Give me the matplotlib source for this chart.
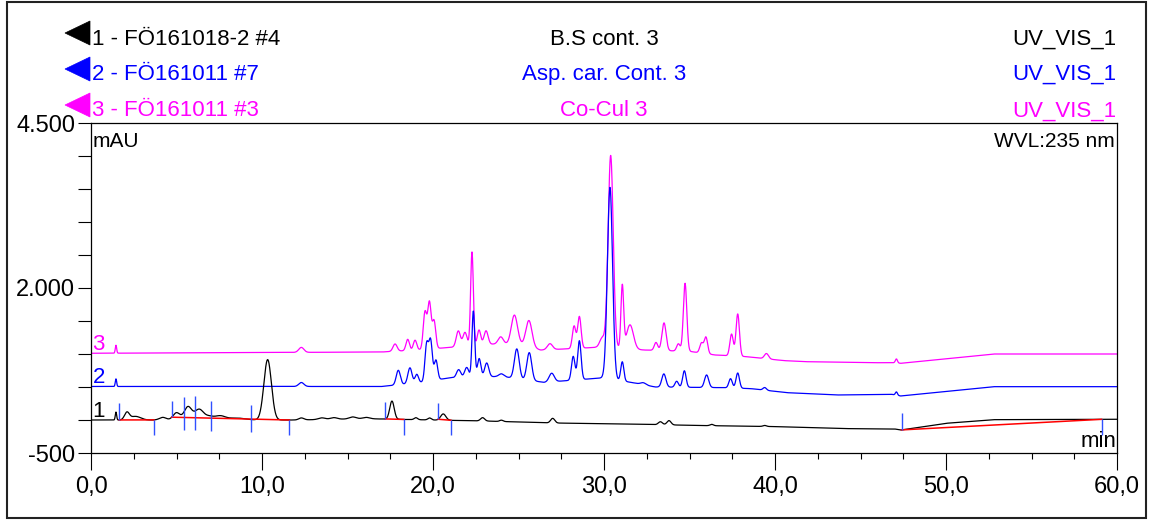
import numpy as np
import matplotlib.pyplot as plt
from matplotlib.patches import Polygon, Rectangle
from matplotlib.ticker import FixedLocator, MultipleLocator

plt.rcParams['font.family'] = ['Liberation Sans', 'DejaVu Sans']

# header rows (one per trace)
sample_names = ["1 - FÖ161018-2 #4", "2 - FÖ161011 #7", "3 - FÖ161011 #3"]
sample_titles = ["B.S cont. 3", "Asp. car. Cont. 3", "Co-Cul 3"]
channels = ["UV_VIS_1", "UV_VIS_1", "UV_VIS_1"]
trace_colors = ["#000000", "#0000ff", "#ff00ff"]
trace_labels = ["1", "2", "3"]

# axes
y_ticks = [-500, 2000, 4500]
y_ticklabels = ["-500", "2.000", "4.500"]
x_ticks = [0, 10, 20, 30, 40, 50, 60]
x_ticklabels = ["0,0", "10,0", "20,0", "30,0", "40,0", "50,0", "60,0"]

# trace 1 (black): baseline drift, then peaks (rt min, height mAU, sigma min)
base1_t = [0, 12, 16, 20, 23, 27, 32, 36, 40, 44, 47.0, 47.35, 50, 52.75, 60]
base1_v = [0, 0, 20, 0, -15, -45, -65, -85, -100, -130, -136, -152, -50, 5, 11]
peaks1_rt = [1.46, 2.1, 2.6, 4.2, 5.0, 5.67, 6.32, 6.9, 7.54, 8.5, 10.33, 12.3, 13.5, 14.2,
             15.3, 16.1, 17.6, 19.0, 19.8, 20.6, 22.9, 24.0, 27.0, 33.3, 33.8, 36.3, 39.4]
peaks1_h = [120, 110, 55, 40, 110, 200, 160, 50, 60, 30, 915, 30, 25, 25,
            30, 20, 275, 30, 30, 95, 50, 20, 70, 45, 65, 20, 15]
peaks1_w = [0.04, 0.14, 0.3, 0.2, 0.2, 0.22, 0.25, 0.25, 0.3, 0.5, 0.22, 0.15, 0.2, 0.2,
            0.2, 0.2, 0.13, 0.1, 0.1, 0.15, 0.12, 0.1, 0.12, 0.12, 0.12, 0.1, 0.1]

# trace 2 (blue)
base2_t = [0, 17, 19, 21, 24, 26.5, 28, 30, 31.8, 33, 37, 38.6, 40.7, 43.6, 46.8, 47.35, 52.75, 60]
base2_v = [508, 508, 560, 640, 660, 570, 600, 640, 560, 500, 490, 475, 414, 379, 390, 364, 505, 505]
peaks2_rt = [1.46, 12.3, 17.97, 18.65, 19.05, 19.63, 19.86, 20.17, 21.5, 21.97, 22.36, 22.7,
             23.14, 24.0, 24.9, 25.63, 26.94, 28.2, 28.56, 30.35, 31.07, 32.3, 33.5, 34.25,
             34.7, 36.0, 37.4, 37.82, 39.4, 47.1]
peaks2_h = [115, 60, 220, 240, 130, 560, 600, 300, 120, 150, 1000, 280,
            210, 40, 450, 420, 130, 360, 590, 2900, 290, 30, 200, 90,
            250, 190, 140, 230, 40, 50]
peaks2_w = [0.04, 0.15, 0.12, 0.12, 0.1, 0.1, 0.1, 0.1, 0.12, 0.12, 0.08, 0.1,
            0.12, 0.15, 0.14, 0.14, 0.15, 0.1, 0.1, 0.15, 0.09, 0.15, 0.12, 0.1,
            0.1, 0.12, 0.1, 0.1, 0.1, 0.06]

# trace 3 (magenta)
base3_t = [0, 17, 19, 21, 23.5, 25, 26.3, 28, 29.5, 32.4, 35, 36.5, 38.3, 40.5, 41.7, 45.6,
           47.0, 47.35, 52.75, 60]
base3_v = [1011, 1030, 1060, 1100, 1150, 1150, 1060, 1080, 1100, 1060, 1040, 985, 960, 900, 884, 868,
           868, 859, 1000, 1000]
peaks3_rt = [1.46, 12.3, 17.78, 18.52, 18.95, 19.53, 19.79, 20.06, 21.48, 21.87, 22.28, 22.69,
             23.1, 23.96, 24.76, 25.61, 26.84, 28.25, 28.56, 29.9, 30.39, 31.07, 31.52, 33.04,
             33.51, 34.35, 34.74, 35.7, 35.96, 37.46, 37.82, 39.5, 47.1]
peaks3_h = [120, 75, 110, 170, 150, 560, 700, 420, 240, 210, 1420, 230,
            210, 110, 440, 400, 90, 340, 480, 150, 2920, 950, 370, 120,
            420, 110, 1030, 150, 250, 330, 640, 80, 60]
peaks3_w = [0.04, 0.15, 0.12, 0.1, 0.1, 0.1, 0.1, 0.1, 0.12, 0.12, 0.08, 0.1,
            0.12, 0.15, 0.18, 0.18, 0.15, 0.1, 0.1, 0.15, 0.15, 0.08, 0.2, 0.1,
            0.12, 0.1, 0.1, 0.1, 0.1, 0.1, 0.1, 0.12, 0.06]

# integration of trace 1: baseline segments and peak delimiters (min)
seg_start = [1.65, 4.72, 17.2, 20.3, 47.4]
seg_end = [3.68, 11.6, 18.3, 21.05, 59.1]
dividers = [5.43, 6.08, 7.03, 9.36]

t = np.linspace(0, 60, 6001)


def build_trace(base_t, base_v, rt, h, w):
    y = np.interp(t, base_t, base_v)
    for r, a, s in zip(rt, h, w):
        y = y + a * np.exp(-0.5 * ((t - r) / s) ** 2)
    return y


y1 = build_trace(base1_t, base1_v, peaks1_rt, peaks1_h, peaks1_w)
y2 = build_trace(base2_t, base2_v, peaks2_rt, peaks2_h, peaks2_w)
y3 = build_trace(base3_t, base3_v, peaks3_rt, peaks3_h, peaks3_w)
traces = [y1, y2, y3]

W, H = 1153, 522
fig = plt.figure(figsize=(W / 100, H / 100), dpi=100)
ax = fig.add_axes([91 / W, 69 / H, 1026 / W, 330 / H])

for i in [2, 1, 0]:
    ax.plot(t, traces[i], color=trace_colors[i], lw=0.9, zorder=2)
    ax.annotate(trace_labels[i], xy=(0, traces[i][0]), xytext=(1, 2.5), textcoords='offset points',
                color=trace_colors[i], fontsize=16, ha='left', va='baseline')

# integration baselines and delimiters on trace 1
up_len, down_len = 250, 230
for s, e in zip(seg_start, seg_end):
    ys, ye = np.interp(s, t, y1), np.interp(e, t, y1)
    ax.plot([s, e], [ys, ye], color='#ff0000', lw=1.1, zorder=3)
    ax.vlines(s, ys, ys + up_len, color='#3050ff', lw=1.0, zorder=4)
    ax.vlines(e, ye - down_len, ye, color='#3050ff', lw=1.0, zorder=4)
for d in dividers:
    k = [j for j in range(len(seg_start)) if seg_start[j] < d < seg_end[j]][0]
    b = np.interp(d, [seg_start[k], seg_end[k]],
                  [np.interp(seg_start[k], t, y1), np.interp(seg_end[k], t, y1)])
    ax.vlines(d, b - 190, np.interp(d, t, y1) + 220, color='#3050ff', lw=1.0, zorder=4)

ax.set_xlim(0, 60)
ax.set_ylim(-500, 4500)
ax.xaxis.set_major_locator(FixedLocator(x_ticks))
ax.set_xticklabels(x_ticklabels)
ax.xaxis.set_minor_locator(MultipleLocator(2.5))
ax.yaxis.set_major_locator(FixedLocator(y_ticks))
ax.set_yticklabels(y_ticklabels)
ax.yaxis.set_minor_locator(MultipleLocator(500))
ax.tick_params(axis='x', which='major', length=12.5, width=0.8, labelsize=17, pad=4)
ax.tick_params(axis='x', which='minor', length=4.5, width=0.8)
ax.tick_params(axis='y', which='both', length=9.5, width=0.8, labelsize=17, pad=2)
for sp in ax.spines.values():
    sp.set_linewidth(0.9)

ax.annotate("mAU", xy=(0, 1), xycoords='axes fraction', xytext=(1, -17.5), textcoords='offset points',
            fontsize=15, ha='left', va='baseline')
ax.annotate("WVL:235 nm", xy=(1, 1), xycoords='axes fraction', xytext=(-1.5, -17.5),
            textcoords='offset points', fontsize=15, ha='right', va='baseline')
ax.annotate("min", xy=(1, 0), xycoords='axes fraction', xytext=(-0.5, 4.5), textcoords='offset points',
            fontsize=16, ha='right', va='baseline')

# header with sample rows
row_base = [45, 80, 116.5]
row_mid = [33, 69, 105]
for i in range(3):
    yb = 1 - row_base[i] / H
    fig.text(92 / W, yb, sample_names[i], color=trace_colors[i], fontsize=16, ha='left', va='baseline')
    fig.text(604 / W, yb, sample_titles[i], color=trace_colors[i], fontsize=16, ha='center', va='baseline')
    fig.text(1116 / W, yb, channels[i], color=trace_colors[i], fontsize=16, ha='right', va='baseline')
    ym = row_mid[i]
    tri = [(65 / W, 1 - ym / H), (90 / W, 1 - (ym - 12) / H), (90 / W, 1 - (ym + 12) / H)]
    fig.add_artist(Polygon(tri, closed=True, transform=fig.transFigure, facecolor=trace_colors[i],
                           edgecolor=trace_colors[i], lw=0.5))

fig.add_artist(Rectangle((7 / W, 4 / H), 1139 / W, 516 / H, transform=fig.transFigure,
                         fill=False, edgecolor='#222222', lw=1.5))

fig.savefig("out.png", dpi=100)
